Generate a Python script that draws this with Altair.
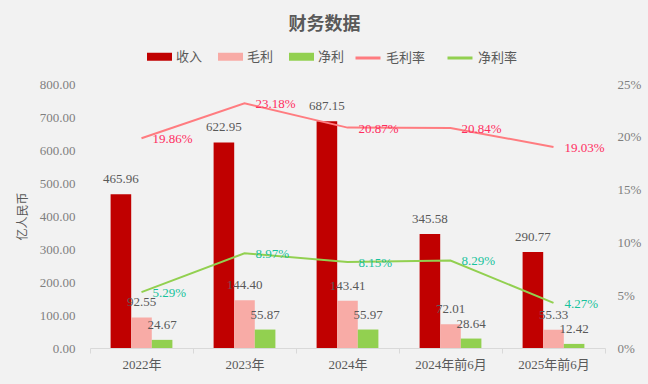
import altair as alt
import pandas as pd

categories = ["2022年", "2023年", "2024年", "2024年前6月", "2025年前6月"]
revenue = [465.96, 622.95, 687.15, 345.58, 290.77]
gross = [92.55, 144.40, 143.41, 72.01, 55.33]
net = [24.67, 55.87, 55.97, 28.64, 12.42]
gross_margin = [19.86, 23.18, 20.87, 20.84, 19.03]
net_margin = [5.29, 8.97, 8.15, 8.29, 4.27]

bar_series = ["收入", "毛利", "净利"]
bar_colors = ["#c00000", "#f8aba6", "#92d050"]
line_series = ["毛利率", "净利率"]
line_colors = ["#ff7c80", "#92d050"]

NUM_FONT = "Liberation Serif, Noto Sans CJK SC"
GREY = "#595959"

bars_rows = []
for name, vals in zip(bar_series, [revenue, gross, net]):
    for c, v in zip(categories, vals):
        bars_rows.append({"cat": c, "series": name, "value": v})
bars_df = pd.DataFrame(bars_rows)

line_rows = []
for name, vals in zip(line_series, [gross_margin, net_margin]):
    for c, v in zip(categories, vals):
        line_rows.append({"cat": c, "series": name, "value": v / 100.0})
lines_df = pd.DataFrame(line_rows)

x_enc = alt.X(
    "cat:N",
    sort=categories,
    scale=alt.Scale(paddingInner=0, paddingOuter=0),
    axis=alt.Axis(
        title=None,
        labelAngle=0,
        labelFont=NUM_FONT,
        labelFontSize=13,
        labelColor=GREY,
        labelPadding=5,
        tickBand="extent",
        ticks=True,
        tickSize=5,
        tickColor="#d9d9d9",
        domainColor="#d9d9d9",
        grid=False,
    ),
)

xoff = alt.XOffset(
    "series:N",
    sort=bar_series,
    scale=alt.Scale(paddingInner=0, paddingOuter=1),
)

bar_base = alt.Chart(bars_df).encode(
    x=x_enc,
    xOffset=xoff,
    y=alt.Y(
        "value:Q",
        scale=alt.Scale(domain=[0, 800]),
        axis=alt.Axis(
            title="亿人民币",
            titleFont="Noto Sans CJK SC",
            titleFontSize=12,
            titleFontWeight="normal",
            titleColor=GREY,
            titlePadding=10,
            values=[0, 100, 200, 300, 400, 500, 600, 700, 800],
            format=".2f",
            labelFont=NUM_FONT,
            labelFontSize=13,
            labelColor="#7f7f7f",
            labelPadding=15,
            ticks=False,
            domain=False,
            grid=False,
        ),
    ),
)

bars = bar_base.mark_bar().encode(
    color=alt.Color(
        "series:N",
        sort=bar_series,
        scale=alt.Scale(domain=bar_series, range=bar_colors),
        legend=alt.Legend(
            title=None,
            orient="none",
            legendX=57,
            legendY=-40,
            direction="horizontal",
            symbolType="M-1,-0.32H1V0.32H-1Z",
            symbolSize=625,
            symbolStrokeWidth=0,
            labelFont=NUM_FONT,
            labelFontSize=13,
            labelColor=GREY,
            labelOffset=4,
            columnPadding=15,
        ),
    )
)

bar_text = bar_base.mark_text(
    baseline="alphabetic", dy=-11, font=NUM_FONT, fontSize=13, color=GREY
).encode(text=alt.Text("value:Q", format=".2f"))

y_right = alt.Y(
    "value:Q",
    scale=alt.Scale(domain=[0, 0.25]),
    axis=alt.Axis(
        title=None,
        orient="right",
        values=[0, 0.05, 0.10, 0.15, 0.20, 0.25],
        format=".0%",
        labelFont=NUM_FONT,
        labelFontSize=13,
        labelColor="#7f7f7f",
        labelPadding=12,
        ticks=False,
        domain=False,
        grid=False,
    ),
)

line_base = alt.Chart(lines_df).encode(x=x_enc, y=y_right)

lines = line_base.mark_line(strokeWidth=2).encode(
    color=alt.Color(
        "series:N",
        sort=line_series,
        scale=alt.Scale(domain=line_series, range=line_colors),
        legend=alt.Legend(
            title=None,
            orient="none",
            legendX=264,
            legendY=-40,
            direction="horizontal",
            symbolType="stroke",
            symbolSize=625,
            symbolStrokeWidth=3,
            labelFont=NUM_FONT,
            labelFontSize=13,
            labelColor=GREY,
            labelOffset=4,
            columnPadding=15,
        ),
    )
)

gm_text = line_base.transform_filter(alt.datum.series == "毛利率").mark_text(
    align="left", baseline="middle", dx=11, dy=1, font=NUM_FONT, fontSize=13, color="#ff2d5f"
).encode(text=alt.Text("value:Q", format=".2%"))

nm_text = line_base.transform_filter(alt.datum.series == "净利率").mark_text(
    align="left", baseline="middle", dx=11, dy=1, font=NUM_FONT, fontSize=13, color="#17c29b"
).encode(text=alt.Text("value:Q", format=".2%"))

left = alt.layer(bars, bar_text)
right = alt.layer(lines, gm_text, nm_text)

chart = (
    alt.layer(left, right)
    .resolve_scale(y="independent", color="independent")
    .properties(
        width=515,
        height=264,
        autosize=alt.AutoSizeParams(type="none"),
        padding={"left": 90, "top": 84, "right": 43, "bottom": 36},
        background="#f2f2f2",
        title=alt.TitleParams(
            "财务数据",
            font="Noto Sans CJK SC",
            fontSize=18,
            fontWeight="bold",
            color=GREY,
            anchor="middle",
            frame="group",
            dx=-23,
            offset=10,
        ),
    )
    .configure_view(stroke=None)
)

chart.save("out.html", embed_options={"renderer": "svg", "actions": False})
